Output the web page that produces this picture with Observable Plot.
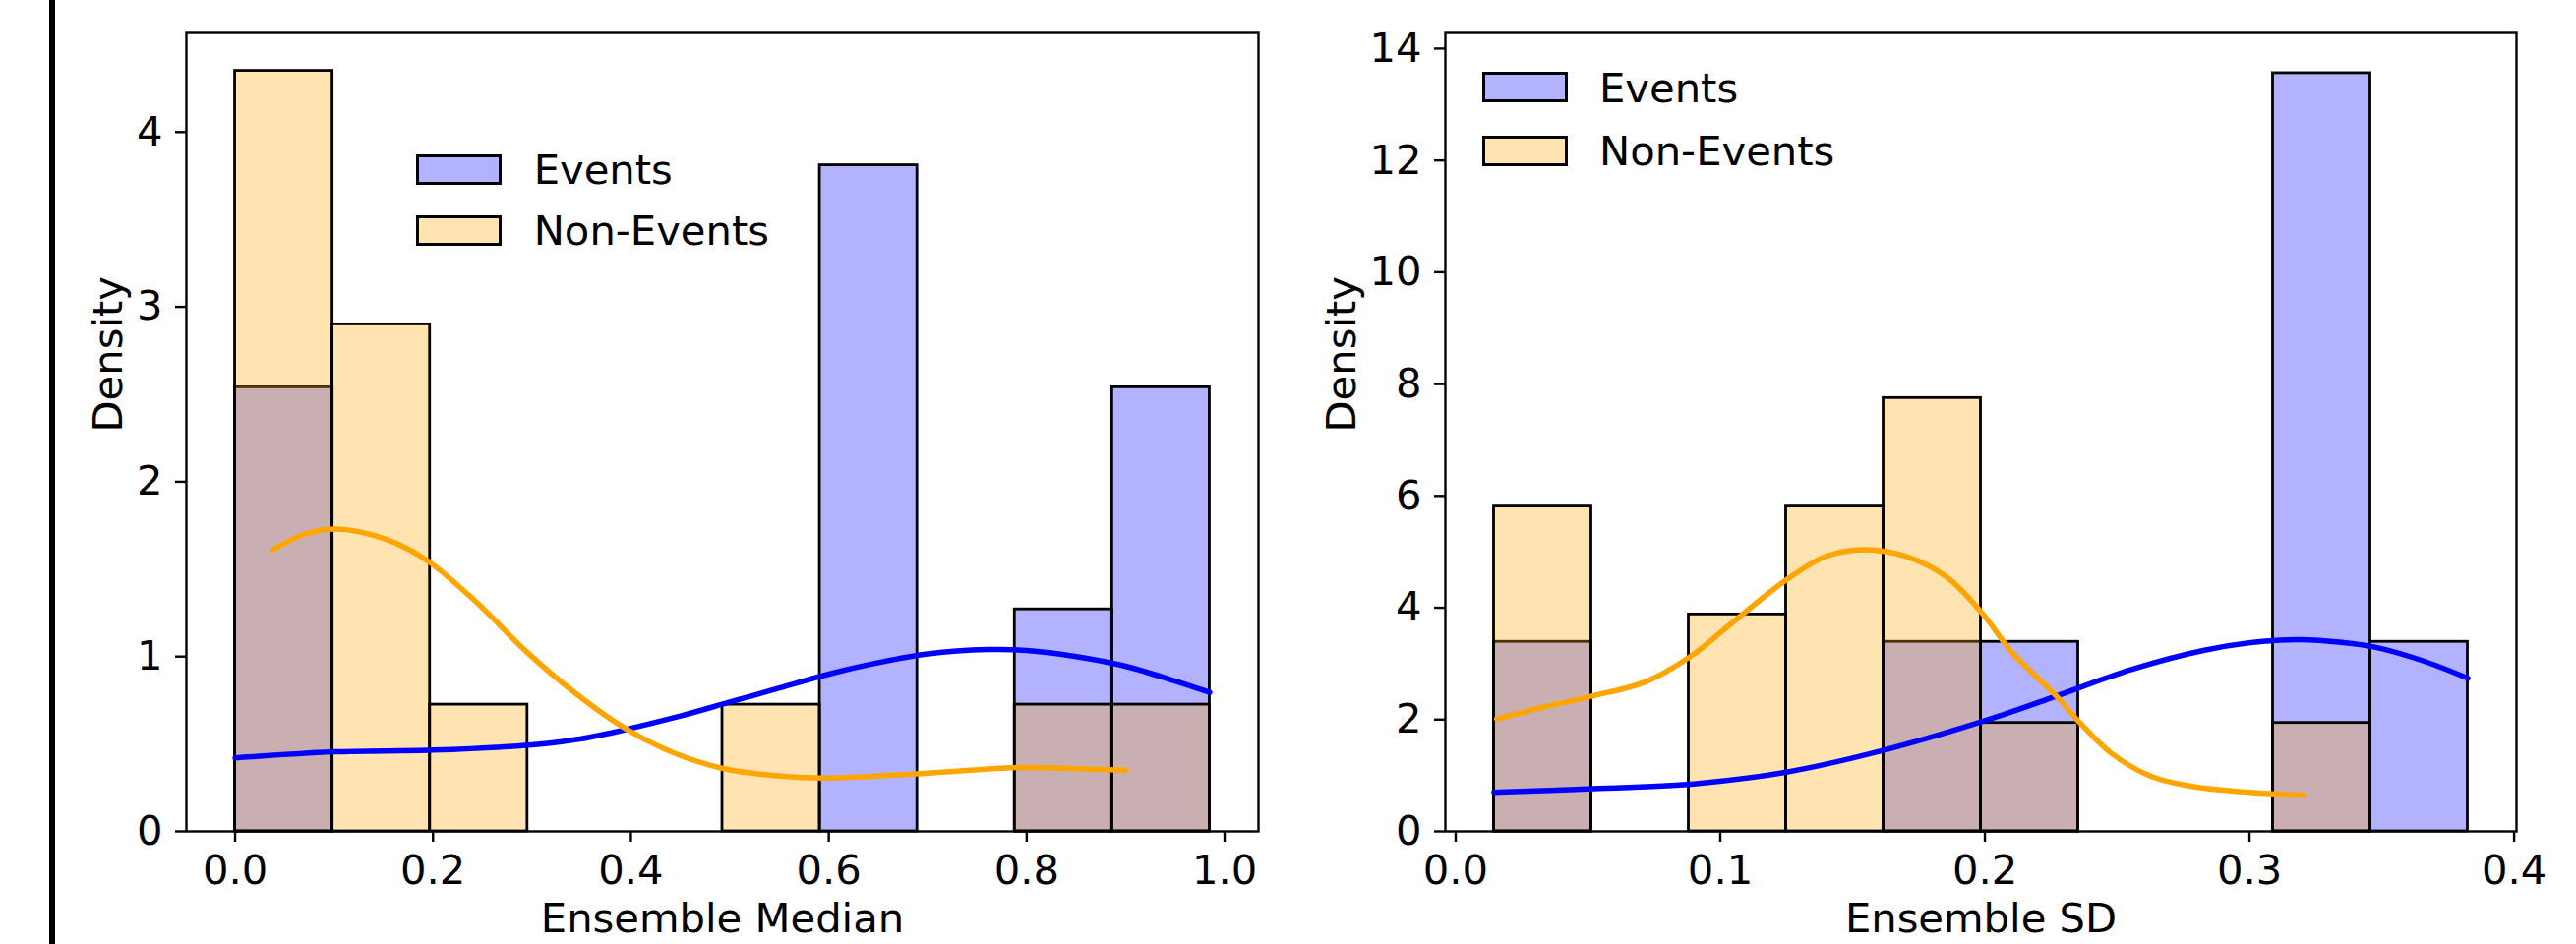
<!DOCTYPE html>
<html>
<head>
<meta charset="utf-8">
<script src="https://cdn.jsdelivr.net/npm/d3@7"></script>
<script src="https://cdn.jsdelivr.net/npm/@observablehq/plot@0.6"></script>
<style>
  body { margin: 0; background: #fff; }
  #root { position: relative; width: 2619px; height: 960px; overflow: hidden; font-family: 'DejaVu Sans', sans-serif; background: #fff; }
  .panel { position: absolute; top: 0; }
  .swatch { position: absolute; box-sizing: border-box; border: 3px solid #000; }
  .ltext { position: absolute; font-size: 41.7px; line-height: 41.7px; white-space: nowrap; color: #000; }
</style>
</head>
<body>
<div id="root">
  <div id="left" class="panel" style="left:0;width:1310px;height:960px"></div>
  <div id="right" class="panel" style="left:1310px;width:1309px;height:960px"></div>
</div>
<script>
// ---------- Data: Ensemble Median panel ----------
const medianBinEdges = [0, 0.0985, 0.197, 0.2955, 0.394, 0.4925, 0.591, 0.6895, 0.788, 0.8865, 0.985];
const medianEventsDensity    = [2.54, 0, 0, 0, 0, 0, 3.81, 0, 1.27, 2.54];
const medianNonEventsDensity = [4.35, 2.90, 0.725, 0, 0, 0.725, 0, 0, 0.725, 0.725];
const medianEventsKdeX = [0, 0.1, 0.2, 0.3, 0.35, 0.4, 0.45, 0.5, 0.55, 0.6, 0.65, 0.7, 0.76, 0.8, 0.85, 0.9, 0.95, 0.985];
const medianEventsKdeY = [0.42, 0.455, 0.465, 0.495, 0.53, 0.59, 0.66, 0.74, 0.82, 0.90, 0.965, 1.015, 1.04, 1.035, 1.0, 0.945, 0.86, 0.795];
const medianNonEventsKdeX = [0.038, 0.07, 0.103, 0.153, 0.194, 0.244, 0.294, 0.344, 0.394, 0.443, 0.493, 0.543, 0.593, 0.643, 0.693, 0.743, 0.792, 0.842, 0.9];
const medianNonEventsKdeY = [1.61, 1.70, 1.73, 1.67, 1.55, 1.31, 1.03, 0.79, 0.59, 0.45, 0.36, 0.32, 0.305, 0.315, 0.33, 0.35, 0.365, 0.36, 0.35];
const medianTicksX = [0, 0.2, 0.4, 0.6, 0.8, 1.0];
const medianTicksY = [0, 1, 2, 3, 4];

// ---------- Data: Ensemble SD panel ----------
const sdBinEdges = [0.0145, 0.0513, 0.0881, 0.1249, 0.1617, 0.1985, 0.2353, 0.2721, 0.3089, 0.3457, 0.3825];
const sdEventsDensity    = [3.39, 0, 0, 0, 3.39, 3.39, 0, 0, 13.56, 3.39];
const sdNonEventsDensity = [5.81, 0, 3.88, 5.81, 7.75, 1.94, 0, 0, 1.94, 0];
const sdEventsKdeX = [0.0145, 0.05, 0.09, 0.125, 0.16, 0.2, 0.227, 0.255, 0.283, 0.305, 0.319, 0.335, 0.347, 0.365, 0.3825];
const sdEventsKdeY = [0.70, 0.76, 0.85, 1.06, 1.43, 1.98, 2.42, 2.89, 3.24, 3.40, 3.43, 3.38, 3.30, 3.06, 2.74];
const sdNonEventsKdeX = [0.0155, 0.033, 0.0515, 0.072, 0.0885, 0.105, 0.125, 0.14, 0.1545, 0.17, 0.1855, 0.199, 0.2106, 0.227, 0.2356, 0.2477, 0.263, 0.279, 0.297, 0.3205];
const sdNonEventsKdeY = [2.01, 2.22, 2.42, 2.68, 3.12, 3.75, 4.50, 4.92, 5.04, 4.92, 4.55, 3.90, 3.18, 2.42, 1.96, 1.40, 0.98, 0.80, 0.71, 0.65];
const sdTicksX = [0, 0.1, 0.2, 0.3, 0.4];
const sdTicksY = [0, 2, 4, 6, 8, 10, 12, 14];

const seriesNames = ["Events", "Non-Events"];
const seriesFill = ["#0000ff", "#ffa500"];

function bins(edges, dens) {
  return dens.map((v, i) => ({x1: edges[i], x2: edges[i + 1], y: v})).filter(d => d.y > 0);
}
function pts(xs, ys) { return xs.map((x, i) => ({x, y: ys[i]})); }

function panel(o) {
  return Plot.plot({
    width: o.width, height: 960,
    marginLeft: o.marginLeft, marginRight: o.marginRight, marginTop: 33, marginBottom: 115,
    style: {fontFamily: "'DejaVu Sans', sans-serif", fontSize: "41.7px", background: "transparent", maxWidth: "none", overflow: "visible", color: "#000"},
    x: {domain: o.xDomain},
    y: {domain: o.yDomain},
    marks: [
      Plot.rect(bins(o.edges, o.ev), {x1: "x1", x2: "x2", y1: 0, y2: "y", inset: 0, fill: seriesFill[0], fillOpacity: 0.3, stroke: "#000", strokeWidth: 2.8}),
      Plot.rect(bins(o.edges, o.nev), {x1: "x1", x2: "x2", y1: 0, y2: "y", inset: 0, fill: seriesFill[1], fillOpacity: 0.3, stroke: "#000", strokeWidth: 2.8}),
      Plot.line(o.evKde, {x: "x", y: "y", stroke: seriesFill[0], strokeWidth: 5.5, curve: "catmull-rom"}),
      Plot.line(o.nevKde, {x: "x", y: "y", stroke: seriesFill[1], strokeWidth: 5.5, curve: "catmull-rom"}),
      Plot.frame({stroke: "#000", strokeWidth: 2.4}),
      Plot.axisX(o.xTicks, {tickFormat: d3.format(".1f"), tickSize: 11, tickPadding: 13, strokeWidth: 2.4, label: null}),
      Plot.axisY(o.yTicks, {tickFormat: d3.format("d"), tickSize: 11, tickPadding: 13, strokeWidth: 2.4, label: null}),
      Plot.text([o.xLabel], {frameAnchor: "bottom", dy: 89.5, lineAnchor: "middle", fill: "#000"}),
      Plot.text(["Density"], {frameAnchor: "left", dx: o.yLabelDx, rotate: -90, lineAnchor: "middle", fill: "#000"})
    ]
  });
}

document.getElementById("left").append(panel({
  width: 1310, marginLeft: 189, marginRight: 31,
  xDomain: [-0.04925, 1.03425], yDomain: [0, 4.567],
  edges: medianBinEdges, ev: medianEventsDensity, nev: medianNonEventsDensity,
  evKde: pts(medianEventsKdeX, medianEventsKdeY), nevKde: pts(medianNonEventsKdeX, medianNonEventsKdeY),
  xTicks: medianTicksX, yTicks: medianTicksY, xLabel: "Ensemble Median", yLabelDx: -79.3
}));
document.getElementById("right").append(panel({
  width: 1309, marginLeft: 159, marginRight: 61,
  xDomain: [-0.0039, 0.4009], yDomain: [0, 14.28],
  edges: sdBinEdges, ev: sdEventsDensity, nev: sdNonEventsDensity,
  evKde: pts(sdEventsKdeX, sdEventsKdeY), nevKde: pts(sdNonEventsKdeX, sdNonEventsKdeY),
  xTicks: sdTicksX, yTicks: sdTicksY, xLabel: "Ensemble SD", yLabelDx: -105.3
}));

// Legends (inside axes) and left border bar
const root = document.getElementById("root");
const swatchBg = ["#b2b2ff", "#ffe4b2"];
function legend(boxLeft, textLeft, centers) {
  centers.forEach((c, i) => {
    const s = document.createElement("div");
    s.className = "swatch";
    s.style.cssText = `left:${boxLeft}px;top:${c - 15.5}px;width:87px;height:31px;background:${swatchBg[i]}`;
    root.append(s);
    const t = document.createElement("div");
    t.className = "ltext";
    t.style.cssText = `left:${textLeft}px;top:${c + 15.2 - 35.3}px`;
    t.textContent = seriesNames[i];
    root.append(t);
  });
}
legend(423, 542.7, [172.5, 234.5]);
legend(1507, 1626, [88.8, 153]);

const bar = document.createElement("div");
bar.style.cssText = "position:absolute;left:50px;top:0;width:6px;height:960px;background:#000";
root.append(bar);
</script>
</body>
</html>
